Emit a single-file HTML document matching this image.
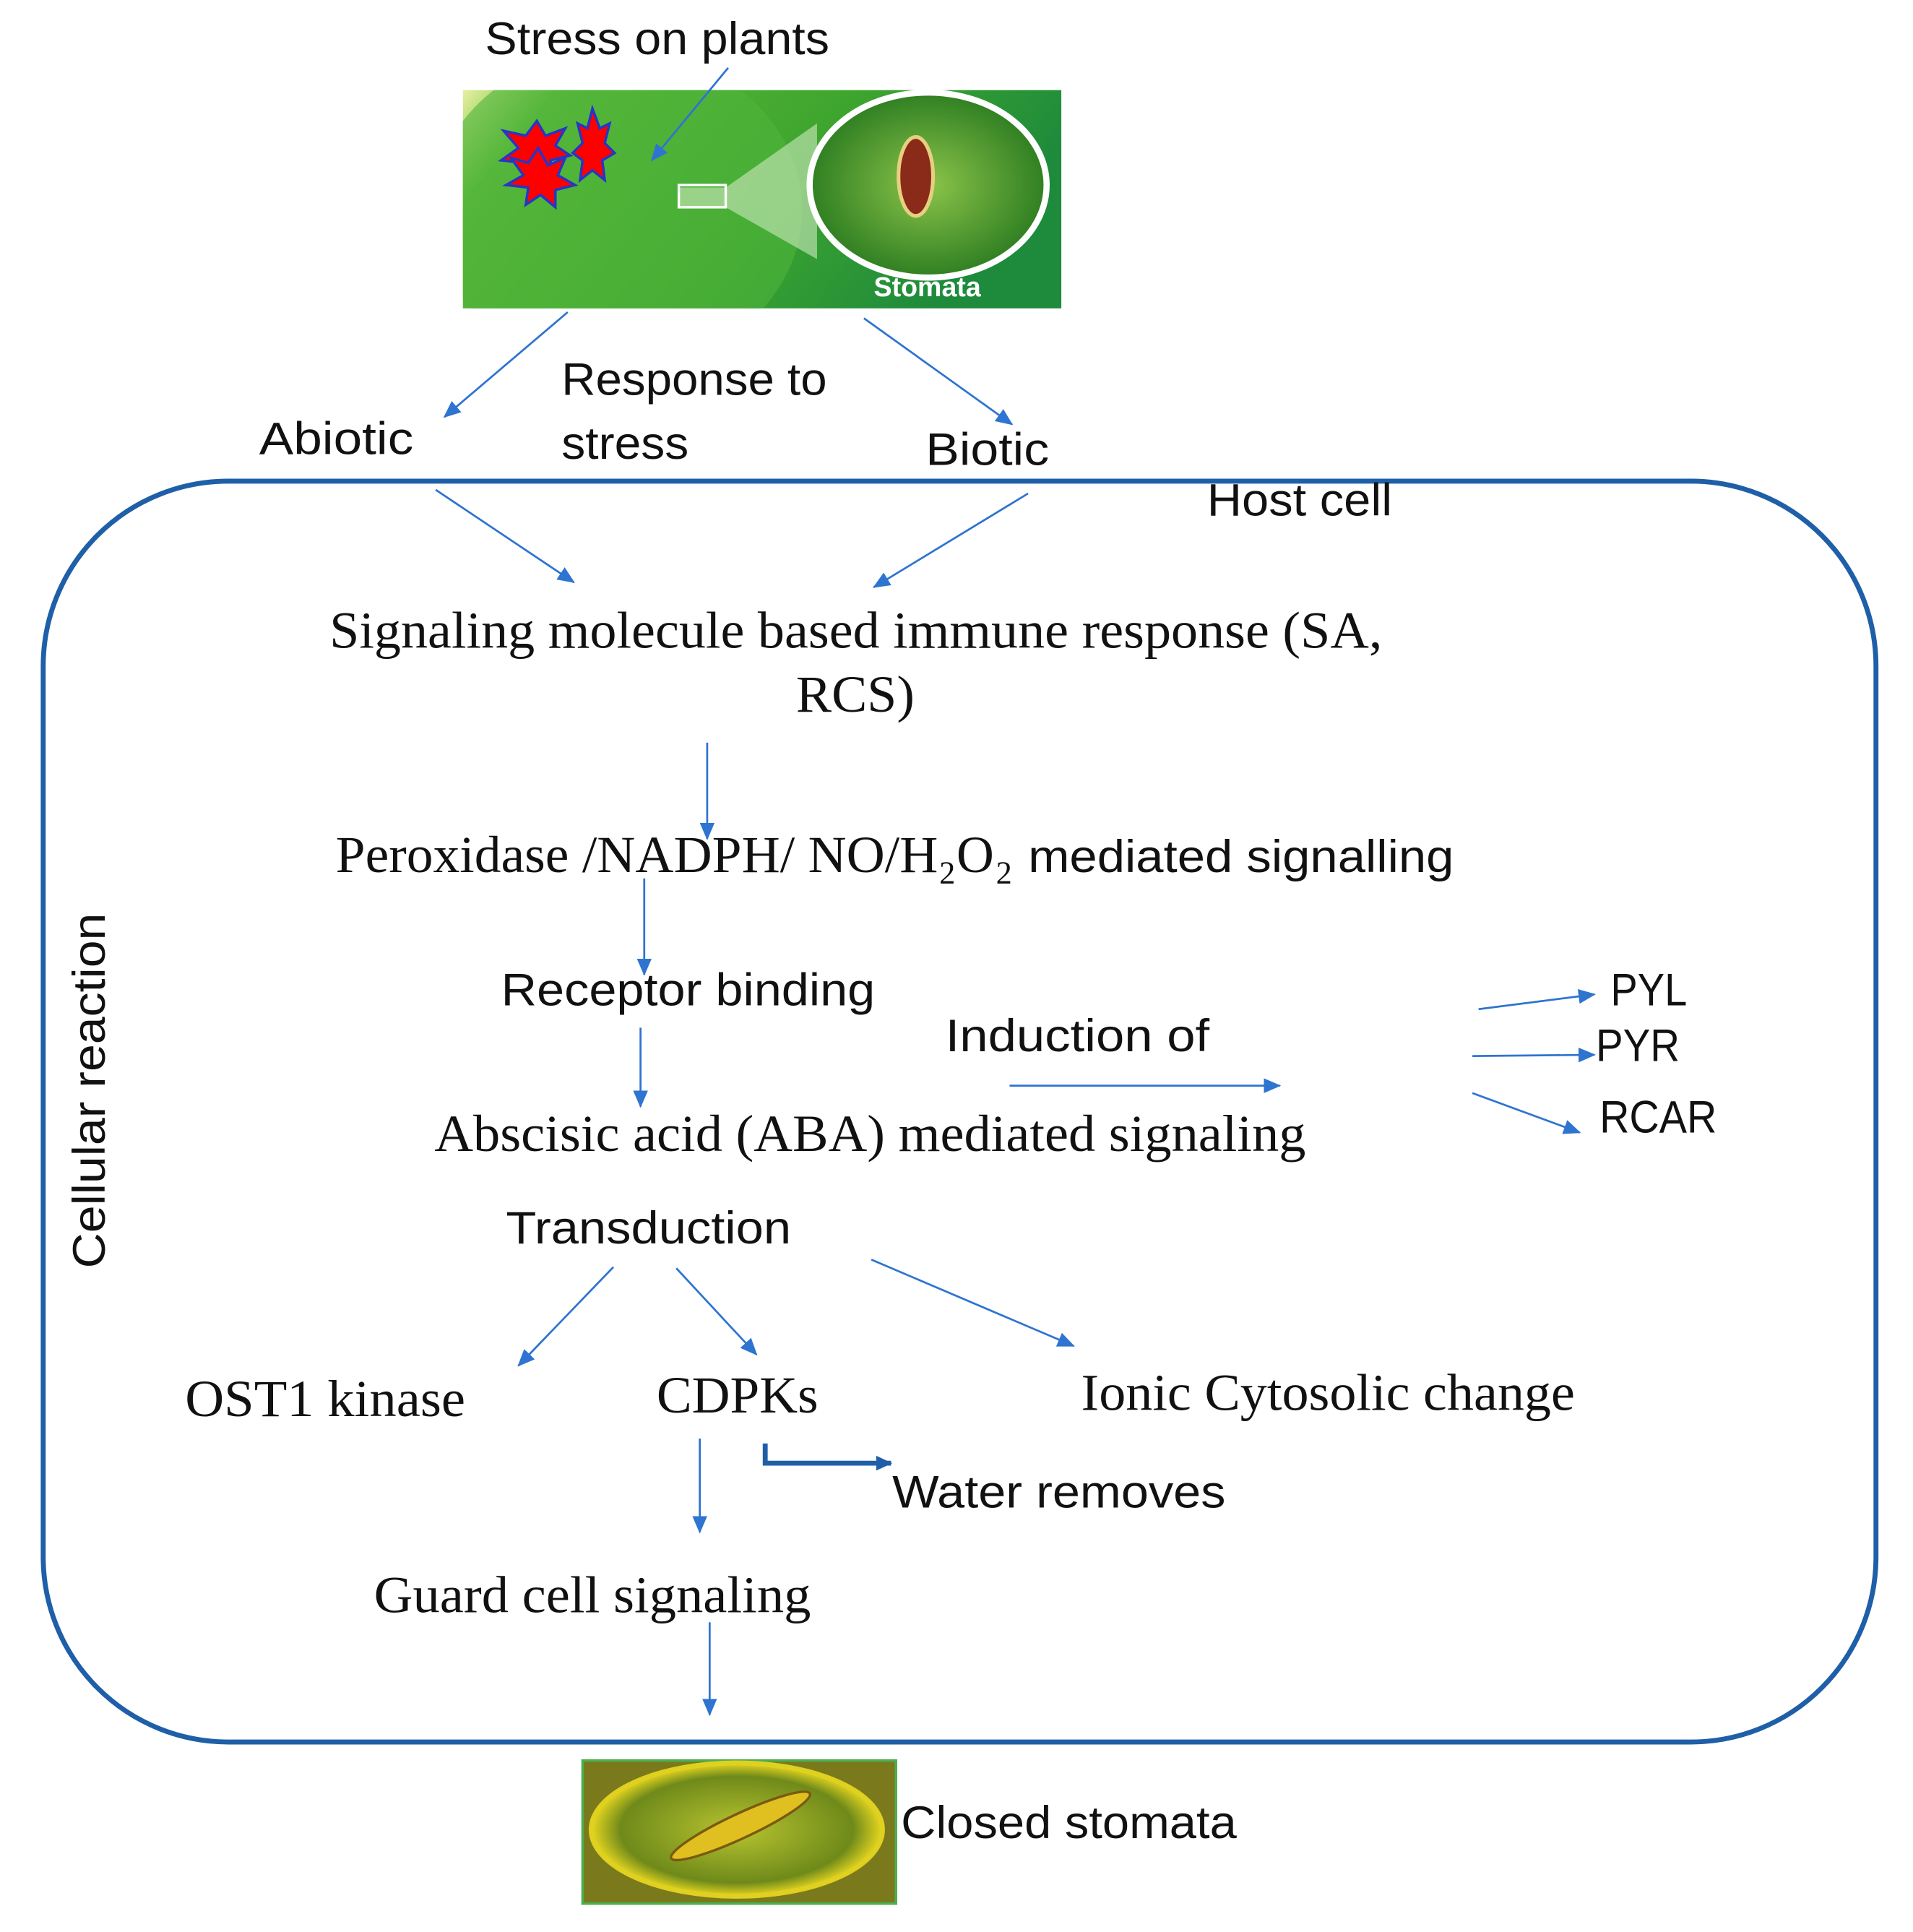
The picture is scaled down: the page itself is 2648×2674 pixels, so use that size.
<!DOCTYPE html>
<html><head><meta charset="utf-8"><style>
html,body{margin:0;padding:0;background:#fff;}
svg{display:block}
.s{font-family:"Liberation Sans",sans-serif;font-size:37px;fill:#111}
.r{font-family:"Liberation Serif",serif;font-size:42px;fill:#111}
.sub{font-family:"Liberation Serif",serif;font-size:26px;fill:#111}
</style></head><body>
<svg width="2648" height="2674" viewBox="0 0 1550 1566" preserveAspectRatio="none" xmlns="http://www.w3.org/2000/svg">
<defs>
<marker id="a" markerWidth="14" markerHeight="12" refX="13" refY="6" orient="auto" markerUnits="userSpaceOnUse"><path d="M0,0 L14,6 L0,12 Z" fill="#2e74d0"/></marker>
<marker id="b" markerWidth="14" markerHeight="14" refX="12" refY="7" orient="auto" markerUnits="userSpaceOnUse"><path d="M0,1 L13,7 L0,13 Z" fill="#1f5fa8"/></marker>
<linearGradient id="lg" x1="0" y1="0" x2="1" y2="0.3"><stop offset="0" stop-color="#e8f0a0"/><stop offset="0.15" stop-color="#5cb83a"/><stop offset="0.6" stop-color="#3ea52e"/><stop offset="1" stop-color="#1d8a3c"/></linearGradient>
<radialGradient id="cg"><stop offset="0" stop-color="#8cc44a"/><stop offset="1" stop-color="#2f7f22"/></radialGradient>
<radialGradient id="sg"><stop offset="0" stop-color="#b8c430"/><stop offset="0.8" stop-color="#6f8a1a"/><stop offset="1" stop-color="#e6d620"/></radialGradient>
<clipPath id="cl"><rect x="375" y="73" width="485" height="177"/></clipPath>
</defs>
<g clip-path="url(#cl)">
<rect x="375" y="73" width="485" height="177" fill="url(#lg)"/>
<ellipse cx="500" cy="170" rx="150" ry="130" fill="#4fb43a" opacity="0.6"/>
<polygon points="550,152 588,152 662,100 662,210 588,168 550,168" fill="#cfe9c0" opacity="0.6"/>
</g>
<text class="s" x="393" y="44" textLength="279" lengthAdjust="spacingAndGlyphs">Stress on plants</text>
<rect x="550" y="150" width="38" height="18" fill="none" stroke="#fff" stroke-width="2"/>
<ellipse cx="752" cy="150" rx="96" ry="75" fill="url(#cg)" stroke="#fff" stroke-width="5"/>
<ellipse cx="742" cy="143" rx="14" ry="32" fill="#8a2a18" stroke="#e6d080" stroke-width="3"/>
<text x="708" y="240" font-family="Liberation Sans,sans-serif" font-weight="bold" font-size="22" fill="#fff">Stomata</text>
<g fill="#f00" stroke="#2536c8" stroke-width="2">
<polygon points="435,98 442,110 458,104 450,118 462,126 446,130 448,146 436,136 424,148 424,132 406,130 420,120 408,106 426,110"/>
<polygon points="436,120 444,134 458,128 452,142 466,150 450,154 450,168 438,158 426,166 428,152 410,150 424,142 414,128 428,132"/>
<polygon points="480,88 486,104 494,100 490,116 498,124 488,130 490,146 480,138 470,146 472,130 464,124 472,116 468,100 476,104"/>
</g>
<line x1="590" y1="55" x2="528" y2="130" stroke="#2e74d0" stroke-width="1.6" marker-end="url(#a)"/>
<line x1="460" y1="253" x2="360" y2="338" stroke="#2e74d0" stroke-width="1.6" marker-end="url(#a)"/>
<line x1="700" y1="258" x2="820" y2="344" stroke="#2e74d0" stroke-width="1.6" marker-end="url(#a)"/>
<text class="s" x="210" y="368" textLength="125" lengthAdjust="spacingAndGlyphs">Abiotic</text>
<text class="s" x="455" y="320" textLength="215" lengthAdjust="spacingAndGlyphs">Response to</text>
<text class="s" x="455" y="372" textLength="103" lengthAdjust="spacingAndGlyphs">stress</text>
<text class="s" x="750" y="377" textLength="100" lengthAdjust="spacingAndGlyphs">Biotic</text>
<rect x="35" y="390" width="1485" height="1022" rx="150" ry="150" fill="none" stroke="#1f5fa8" stroke-width="4"/>
<text class="s" x="978" y="418" textLength="150" lengthAdjust="spacingAndGlyphs">Host cell</text>
<line x1="353" y1="397" x2="465" y2="472" stroke="#2e74d0" stroke-width="1.6" marker-end="url(#a)"/>
<line x1="833" y1="400" x2="708" y2="476" stroke="#2e74d0" stroke-width="1.6" marker-end="url(#a)"/>
<text class="r" x="267" y="525" textLength="853" lengthAdjust="spacingAndGlyphs">Signaling molecule based immune response (SA,</text>
<text class="r" x="645" y="577" textLength="96" lengthAdjust="spacingAndGlyphs">RCS)</text>
<line x1="573" y1="602" x2="573" y2="680" stroke="#2e74d0" stroke-width="1.6" marker-end="url(#a)"/>
<text class="r" x="272" y="707" textLength="488" lengthAdjust="spacingAndGlyphs">Peroxidase /NADPH/ NO/H</text>
<text class="sub" x="761" y="716">2</text>
<text class="r" x="775" y="707">O</text>
<text class="sub" x="807" y="716">2</text>
<text class="s" x="833" y="707" textLength="345" lengthAdjust="spacingAndGlyphs">mediated signalling</text>
<line x1="522" y1="712" x2="522" y2="790" stroke="#2e74d0" stroke-width="1.6" marker-end="url(#a)"/>
<text class="s" x="406" y="815" textLength="303" lengthAdjust="spacingAndGlyphs">Receptor binding</text>
<text class="s" x="766" y="852" textLength="214" lengthAdjust="spacingAndGlyphs">Induction of</text>
<line x1="818" y1="880" x2="1037" y2="880" stroke="#2e74d0" stroke-width="1.6" marker-end="url(#a)"/>
<line x1="1198" y1="818" x2="1292" y2="806" stroke="#2e74d0" stroke-width="1.6" marker-end="url(#a)"/>
<line x1="1193" y1="856" x2="1292" y2="855" stroke="#2e74d0" stroke-width="1.6" marker-end="url(#a)"/>
<line x1="1193" y1="886" x2="1280" y2="918" stroke="#2e74d0" stroke-width="1.6" marker-end="url(#a)"/>
<text class="s" x="1305" y="815" textLength="62" lengthAdjust="spacingAndGlyphs">PYL</text>
<text class="s" x="1293" y="860" textLength="68" lengthAdjust="spacingAndGlyphs">PYR</text>
<text class="s" x="1296" y="918" textLength="95" lengthAdjust="spacingAndGlyphs">RCAR</text>
<line x1="519" y1="833" x2="519" y2="897" stroke="#2e74d0" stroke-width="1.6" marker-end="url(#a)"/>
<text class="r" x="352" y="933" textLength="706" lengthAdjust="spacingAndGlyphs">Abscisic acid (ABA) mediated signaling</text>
<text class="s" x="410" y="1008" textLength="231" lengthAdjust="spacingAndGlyphs">Transduction</text>
<line x1="497" y1="1027" x2="420" y2="1107" stroke="#2e74d0" stroke-width="1.6" marker-end="url(#a)"/>
<line x1="548" y1="1028" x2="613" y2="1098" stroke="#2e74d0" stroke-width="1.6" marker-end="url(#a)"/>
<line x1="706" y1="1021" x2="870" y2="1091" stroke="#2e74d0" stroke-width="1.6" marker-end="url(#a)"/>
<text class="r" x="150" y="1148" textLength="227" lengthAdjust="spacingAndGlyphs">OST1 kinase</text>
<text class="r" x="532" y="1145" textLength="131" lengthAdjust="spacingAndGlyphs">CDPKs</text>
<text class="r" x="876" y="1143" textLength="400" lengthAdjust="spacingAndGlyphs">Ionic Cytosolic change</text>
<line x1="567" y1="1166" x2="567" y2="1242" stroke="#2e74d0" stroke-width="1.6" marker-end="url(#a)"/>
<path d="M620,1170 L620,1186 L722,1186" fill="none" stroke="#1f5fa8" stroke-width="4" marker-end="url(#b)"/>
<text class="s" x="723" y="1222" textLength="270" lengthAdjust="spacingAndGlyphs">Water removes</text>
<text class="r" x="303" y="1307" textLength="354" lengthAdjust="spacingAndGlyphs">Guard cell signaling</text>
<line x1="575" y1="1315" x2="575" y2="1390" stroke="#2e74d0" stroke-width="1.6" marker-end="url(#a)"/>
<rect x="472" y="1427" width="254" height="116" fill="#7a7a1c" stroke="#4caf50" stroke-width="2"/>
<ellipse cx="597" cy="1483" rx="118" ry="54" fill="url(#sg)" stroke="#e0d020" stroke-width="4"/>
<ellipse cx="600" cy="1480" rx="62" ry="10" transform="rotate(-25 600 1480)" fill="#e0c020" stroke="#7a5a10" stroke-width="2"/>
<text class="s" x="730" y="1490" textLength="272" lengthAdjust="spacingAndGlyphs">Closed stomata</text>
<text class="s" transform="translate(85,1028) rotate(-90)" x="0" y="0" textLength="288" lengthAdjust="spacingAndGlyphs">Cellular reaction</text>
</svg>
</body></html>
